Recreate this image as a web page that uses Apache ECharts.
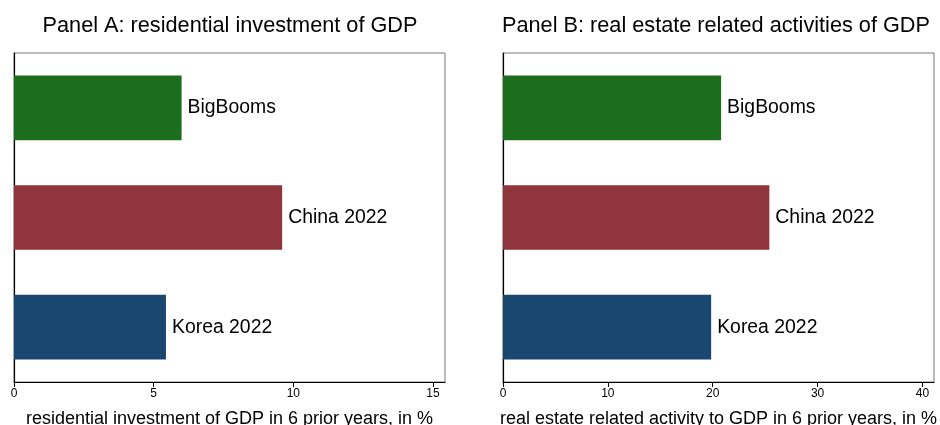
<!DOCTYPE html>
<html>
<head>
<meta charset="utf-8">
<script src="https://cdn.jsdelivr.net/npm/echarts@6/dist/echarts.min.js"></script>
<style>
html,body{margin:0;padding:0;background:#fff;}
#chart{width:940px;height:425px;}
</style>
</head>
<body>
<div id="chart"></div>
<script>
const categories = ['BigBooms', 'China 2022', 'Korea 2022'];
const panelA = [6.0, 9.6, 5.44];
const panelB = [20.8, 25.4, 19.85];
const barColors = ['#1c6e1e', '#90353b', '#1a476f'];
const ticksA = [0, 5, 10, 15];
const ticksB = [0, 10, 20, 30, 40];
const titles = ['Panel A: residential investment of GDP', 'Panel B: real estate related activities of GDP'];
const axisNames = ['residential investment of GDP in 6 prior years, in %', 'real estate related activity to GDP in 6 prior years, in %'];

const FONT = 'Liberation Sans, Arial, Helvetica, sans-serif';

function valueAxis(gridIndex, max, interval, ticks, name) {
  return {
    type: 'value', gridIndex: gridIndex, min: 0, max: max, interval: interval,
    splitLine: { show: false },
    axisLine: { show: true, lineStyle: { color: '#000', width: 1.2 } },
    axisTick: { show: true, length: 5, lineStyle: { color: '#000' }, customValues: ticks },
    axisLabel: { show: true, color: '#000', fontSize: 12, fontFamily: FONT, margin: 6, customValues: ticks },
    name: name, nameLocation: 'middle', nameGap: 28,
    nameTextStyle: { color: '#000', fontSize: 18, fontFamily: FONT }
  };
}
function catAxis(gridIndex) {
  return {
    type: 'category', gridIndex: gridIndex, data: categories, inverse: true,
    axisLine: { show: true, lineStyle: { color: '#000', width: 1.2 } },
    axisTick: { show: false }, axisLabel: { show: false }
  };
}
function barSeries(idx, values) {
  return {
    type: 'bar', xAxisIndex: idx, yAxisIndex: idx, barWidth: '59%',
    data: values.map((v, i) => ({ value: v, name: categories[i], itemStyle: { color: barColors[i] } })),
    label: {
      show: true, position: 'right', distance: 6, color: '#000', fontSize: 19.4, fontFamily: FONT,
      formatter: p => p.name
    },
    silent: true, animation: false
  };
}

const chart = echarts.init(document.getElementById('chart'), null, { renderer: 'canvas' });
chart.setOption({
  backgroundColor: '#fff',
  animation: false,
  graphic: [
    { type: 'text', x: 230, y: 26, style: { text: titles[0], textAlign: 'center', textVerticalAlign: 'middle',
      fontSize: 21.7, fontFamily: FONT, fill: '#000' } },
    { type: 'text', x: 716, y: 26, style: { text: titles[1], textAlign: 'center', textVerticalAlign: 'middle',
      fontSize: 21.7, fontFamily: FONT, fill: '#000' } }
  ],
  grid: [
    { left: 14, top: 53, width: 431, height: 329, show: true, borderColor: '#777', borderWidth: 1,
      backgroundColor: '#fff', containLabel: false, outerBoundsMode: 'none' },
    { left: 503, top: 53, width: 431, height: 329, show: true, borderColor: '#777', borderWidth: 1,
      backgroundColor: '#fff', containLabel: false, outerBoundsMode: 'none' }
  ],
  xAxis: [
    valueAxis(0, 15.43, 5, ticksA, axisNames[0]),
    valueAxis(1, 41.1, 10, ticksB, axisNames[1])
  ],
  yAxis: [catAxis(0), catAxis(1)],
  series: [barSeries(0, panelA), barSeries(1, panelB)]
});
</script>
</body>
</html>
